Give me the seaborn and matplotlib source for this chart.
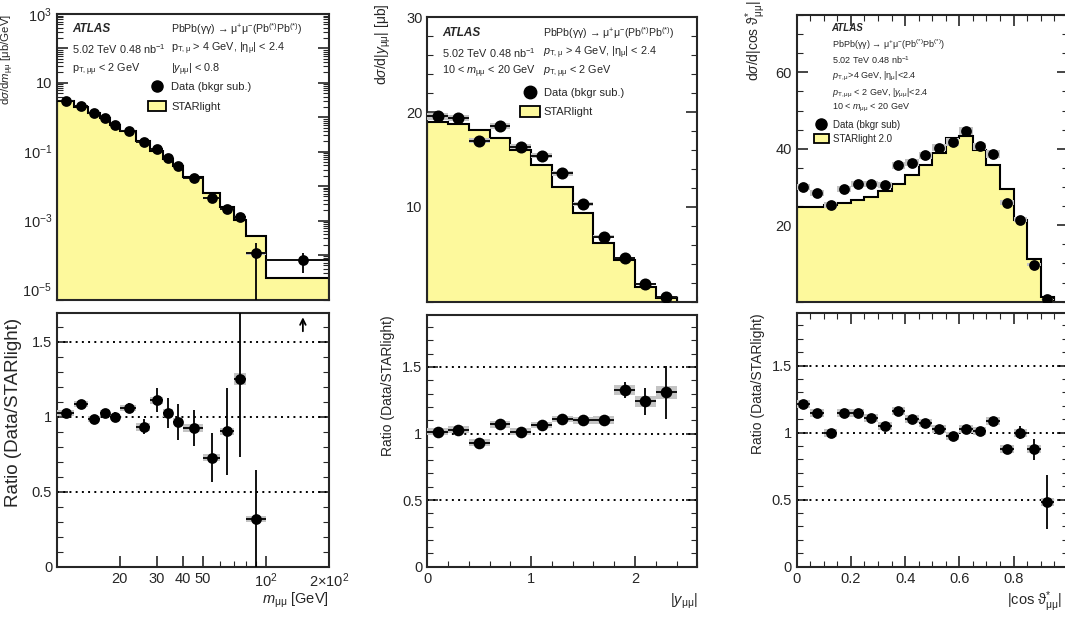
import numpy as np
import matplotlib
matplotlib.use("Agg")
import matplotlib.pyplot as plt
from matplotlib.lines import Line2D
from matplotlib.patches import Patch
from matplotlib.ticker import FixedLocator, MultipleLocator, LogLocator, FuncFormatter, NullFormatter
import seaborn as sns

# ---- m_mumu ----
mass_edges = [10, 12, 14, 16, 18, 20, 24, 28, 32, 36, 40, 50, 60, 70, 80, 100, 200]
mass_data = [3.05, 2.14, 1.31, 0.96, 0.61, 0.41, 0.193, 0.117, 0.064, 0.038, 0.017,
             0.0046, 0.0022, 0.0013, 1.1e-4, 7e-5]
mass_stat_lo = [0.03, 0.02, 0.015, 0.012, 0.009, 0.007, 0.004, 0.003, 0.002, 0.0015, 0.0008,
                0.0006, 0.0004, 0.0003, 1.1e-4, 4e-5]
mass_stat_hi = [0.03, 0.02, 0.015, 0.012, 0.009, 0.007, 0.004, 0.003, 0.002, 0.0015, 0.0008,
                0.0006, 0.0004, 0.0003, 1.1e-4, 4e-5]
mass_syst = [0.09, 0.06, 0.04, 0.03, 0.02, 0.012, 0.006, 0.004, 0.002, 0.0012, 0.0005,
             0.00015, 0.00007, 0.00004, 0.00001, 0.000005]
mass_starlight = [2.98, 1.97, 1.33, 0.94, 0.61, 0.39, 0.207, 0.105, 0.0625, 0.039, 0.0184,
                  0.0063, 0.0024, 0.00104, 3.5e-4, 2.2e-5]
mass_ratio = [1.024, 1.085, 0.987, 1.024, 0.998, 1.058, 0.933, 1.109, 1.024, 0.967, 0.924,
              0.728, 0.902, 1.254, 0.318, 3.2]
mass_ratio_stat = [0.02, 0.02, 0.02, 0.03, 0.03, 0.03, 0.05, 0.08, 0.10, 0.12, 0.12,
                   0.165, 0.29, 0.52, 0.33, 2.0]
mass_ratio_syst = [0.02, 0.02, 0.02, 0.02, 0.02, 0.02, 0.025, 0.025, 0.025, 0.025, 0.025,
                   0.025, 0.025, 0.04, 0.02, 0.1]

# ---- |y_mumu| ----
rap_edges = [0.0, 0.2, 0.4, 0.6, 0.8, 1.0, 1.2, 1.4, 1.6, 1.8, 2.0, 2.2, 2.4]
rap_data = [19.54, 19.37, 17.0, 18.56, 16.37, 15.42, 13.56, 10.32, 6.87, 4.58, 1.87, 0.46]
rap_stat = [0.3, 0.3, 0.3, 0.3, 0.3, 0.25, 0.25, 0.2, 0.2, 0.15, 0.1, 0.08]
rap_syst = [0.35, 0.35, 0.3, 0.3, 0.3, 0.25, 0.25, 0.2, 0.15, 0.1, 0.05, 0.02]
rap_starlight = [19.0, 18.77, 18.13, 17.25, 15.95, 14.37, 12.15, 9.33, 6.16, 4.4, 1.51, 0.42]
rap_ratio = [1.015, 1.028, 0.932, 1.07, 1.015, 1.063, 1.108, 1.10, 1.10, 1.327, 1.242, 1.31]
rap_ratio_stat = [0.02, 0.02, 0.02, 0.02, 0.02, 0.02, 0.025, 0.03, 0.035, 0.06, 0.1, 0.2]
rap_ratio_syst = [0.025, 0.025, 0.025, 0.025, 0.025, 0.025, 0.025, 0.025, 0.03, 0.04, 0.04, 0.05]

# ---- |cos theta*| ----
cos_edges = [0.0, 0.05, 0.1, 0.15, 0.2, 0.25, 0.3, 0.35, 0.4, 0.45, 0.5, 0.55, 0.6, 0.65,
             0.7, 0.75, 0.8, 0.85, 0.9, 0.95]
cos_data = [30.0, 28.5, 25.4, 29.5, 30.7, 30.7, 30.5, 35.7, 36.4, 38.3, 40.3, 41.8, 44.7,
            40.6, 38.7, 25.9, 21.5, 9.7, 0.6]
cos_stat = [0.8, 0.8, 0.8, 0.8, 0.8, 0.8, 0.8, 0.8, 0.8, 0.8, 0.8, 0.8, 0.8, 0.8, 0.8,
            0.7, 0.7, 0.6, 0.3]
cos_syst = [0.8, 0.8, 0.8, 0.8, 0.8, 0.8, 0.8, 0.9, 0.9, 0.9, 1.0, 1.0, 1.0, 1.0, 1.0,
            0.7, 0.6, 0.3, 0.05]
cos_starlight = [24.8, 24.9, 25.3, 25.9, 26.6, 27.5, 28.9, 30.8, 33.2, 35.7, 39.0, 42.8,
                 43.4, 39.7, 35.7, 29.4, 21.5, 11.2, 1.2]
cos_ratio = [1.21, 1.145, 1.0, 1.145, 1.145, 1.11, 1.05, 1.16, 1.105, 1.07, 1.03, 0.975,
             1.03, 1.01, 1.09, 0.88, 1.0, 0.875, 0.483]
cos_ratio_stat = [0.03, 0.03, 0.02, 0.03, 0.03, 0.03, 0.03, 0.03, 0.03, 0.03, 0.03, 0.03,
                  0.03, 0.03, 0.03, 0.03, 0.05, 0.08, 0.2]
cos_ratio_syst = [0.03] * 19

YELLOW = "#fdf99c"
GREY = "#c4c4c4"

sns.set_style("ticks")
plt.rcParams["font.family"] = ["Liberation Sans", "DejaVu Sans"]
plt.rcParams["mathtext.fontset"] = "custom"
plt.rcParams["mathtext.rm"] = "Liberation Sans"
plt.rcParams["mathtext.it"] = "Liberation Sans:italic"
plt.rcParams["mathtext.bf"] = "Liberation Sans:bold"
plt.rcParams["axes.linewidth"] = 1.5

fig = plt.figure(figsize=(10.65, 6.17), dpi=100)
W, H = 1065, 617


def add_ax(x0, x1, y0, y1):
    return fig.add_axes([x0 / W, 1 - y1 / H, (x1 - x0) / W, (y1 - y0) / H])


def style(ax, top=False):
    ax.tick_params(which="both", direction="in", right=True, top=top, labelsize=10.5)
    ax.tick_params(which="major", length=8, width=1.2)
    ax.tick_params(which="minor", length=4, width=0.8)


def draw_top(ax, edges, data, stat_lo, stat_hi, syst, hist, base, ms, xbars=True):
    edges = np.asarray(edges)
    cen = (edges[:-1] + edges[1:]) / 2
    wid = np.diff(edges)
    data = np.asarray(data)
    ax.stairs(hist, edges, baseline=base, fill=True, color=YELLOW, lw=0)
    ax.stairs(hist, edges, baseline=base, color="k", lw=1.5)
    ax.bar(cen, 2 * np.asarray(syst), width=wid, bottom=data - np.asarray(syst),
           color=GREY, lw=0, zorder=3)
    lo = np.minimum(np.asarray(stat_lo), data * 0.99999)
    ax.errorbar(cen, data, yerr=[lo, stat_hi], xerr=wid / 2 if xbars else None, fmt="none",
                ecolor="k", elinewidth=1.3, zorder=4)
    sns.scatterplot(x=cen, y=data, ax=ax, color="k", s=ms, edgecolor="k", linewidth=0,
                    zorder=5, legend=False)


def draw_ratio(ax, edges, ratio, stat, syst, ymax, ms):
    edges = np.asarray(edges)
    cen = (edges[:-1] + edges[1:]) / 2
    wid = np.diff(edges)
    ratio = np.asarray(ratio)
    stat = np.asarray(stat)
    syst = np.asarray(syst)
    ok = ratio <= ymax
    for v in [0.5, 1.0, 1.5]:
        ax.axhline(v, color="k", ls=(0, (1, 2.2)), lw=1.4, zorder=1)
    ax.bar(cen[ok], 2 * syst[ok], width=wid[ok], bottom=ratio[ok] - syst[ok],
           color=GREY, lw=0, zorder=3)
    ax.errorbar(cen[ok], ratio[ok], yerr=stat[ok], xerr=wid[ok] / 2, fmt="none", ecolor="k",
                elinewidth=1.3, zorder=4)
    sns.scatterplot(x=cen[ok], y=ratio[ok], ax=ax, color="k", s=ms, edgecolor="k", linewidth=0,
                    zorder=5, legend=False)
    # off-scale points get an arrow
    for c in cen[~ok]:
        ax.annotate("", xy=(c, ymax - 0.01), xytext=(c, ymax - 0.14),
                    arrowprops=dict(arrowstyle="->", lw=1.3, color="k"))
    ax.set_ylim(0, ymax)
    ax.yaxis.set_major_locator(FixedLocator([0, 0.5, 1, 1.5]))
    ax.yaxis.set_major_formatter(FuncFormatter(lambda v, p: "%g" % v))
    ax.yaxis.set_minor_locator(MultipleLocator(0.1))


def legend(ax, x, y, fs, labels, hl, ht, ls, msz):
    handles = [Line2D([], [], marker="o", ls="none", color="k", markersize=msz),
               Patch(facecolor=YELLOW, edgecolor="k", lw=1.3)]
    ax.legend(handles, labels, loc="upper left", bbox_to_anchor=(x, y), frameon=False,
              fontsize=fs, handlelength=hl, handleheight=1.1, handletextpad=ht,
              labelspacing=ls, borderpad=0, borderaxespad=0)


def txt(ax, x, y, s, fs, **kw):
    ax.text(x, y, s, transform=ax.transAxes, fontsize=fs, va="center", ha="left", **kw)


# ================= left: mass =================
axA = add_ax(57, 329, 14, 300)
axB = add_ax(57, 329, 313, 567)
draw_top(axA, mass_edges, mass_data, mass_stat_lo, mass_stat_hi, mass_syst, mass_starlight, 1e-8, 60)
axA.set_yscale("log")
axA.set_ylim(4.9e-6, 1e3)
axA.yaxis.set_major_locator(LogLocator(base=10, numticks=20))
axA.yaxis.set_minor_locator(LogLocator(base=10, subs=np.arange(2, 10), numticks=100))


def odd_pow(v, p):
    e = int(round(np.log10(v)))
    if e % 2 == 0:
        return ""
    if e == 1:
        return "10"
    return r"$10^{%d}$" % e


axA.yaxis.set_major_formatter(FuncFormatter(odd_pow))
axA.yaxis.set_minor_formatter(NullFormatter())
draw_ratio(axB, mass_edges, mass_ratio, mass_ratio_stat, mass_ratio_syst, 1.69, 60)
for ax in (axA, axB):
    ax.set_xscale("log")
    ax.set_xlim(10, 200)
    ax.xaxis.set_major_locator(FixedLocator([20, 30, 40, 50, 100, 200]))
    ax.xaxis.set_minor_locator(FixedLocator([60, 70, 80, 90]))
    ax.xaxis.set_minor_formatter(NullFormatter())
    style(ax)
axA.set_xticklabels([])
axB.set_xticklabels(["20", "30", "40", "50", r"$10^{2}$", r"$2{\times}10^{2}$"])

axA.set_ylabel(r"d$\sigma$/d$m_{\mathrm{\mu\mu}}$ [$\mathrm{\mu}$b/GeV]", fontsize=8.2, loc="top")
axA.yaxis.set_label_coords(-0.15, 1.0)
axB.set_ylabel("Ratio (Data/STARlight)", fontsize=13.5, loc="top")
axB.yaxis.set_label_coords(-0.13, 0.98)
axB.set_xlabel(r"$m_{\mathrm{\mu\mu}}$ [GeV]", fontsize=10.5, loc="right")
axB.xaxis.set_label_coords(1.0, -0.095)

txt(axA, 0.055, 0.947, "ATLAS", 8.5, fontweight="bold", fontstyle="italic")
txt(axA, 0.055, 0.877, r"5.02 TeV 0.48 nb$^{-1}$", 7.8)
txt(axA, 0.055, 0.806, r"p$_{\mathrm{T,\mu\mu}}$ < 2 GeV", 7.8)
txt(axA, 0.419, 0.947, r"PbPb($\mathrm{\gamma\gamma}$) → $\mathrm{\mu^{+}\mu^{-}}$(Pb$^{(*)}$Pb$^{(*)}$)", 7.6)
txt(axA, 0.419, 0.877, r"p$_{\mathrm{T,\mu}}$ > 4 GeV, |$\mathrm{\eta_{\mu}}$| < 2.4", 7.8)
txt(axA, 0.419, 0.806, r"|$y_{\mathrm{\mu\mu}}$| < 0.8", 7.8)
legend(axA, 0.335, 0.765, 8, ["Data (bkgr sub.)", "STARlight"], 1.6, 0.5, 0.75, 8)

# ================= middle: rapidity =================
axC = add_ax(427.3, 697.3, 17.3, 301.7)
axD = add_ax(427.3, 697.3, 315, 566.7)
draw_top(axC, rap_edges, rap_data, rap_stat, rap_stat, rap_syst, rap_starlight, 0, 75)
axC.set_ylim(0, 30)
axC.yaxis.set_major_locator(FixedLocator([10, 20, 30]))
axC.yaxis.set_minor_locator(MultipleLocator(2))
draw_ratio(axD, rap_edges, rap_ratio, rap_ratio_stat, rap_ratio_syst, 1.89, 70)
for ax in (axC, axD):
    ax.set_xlim(0, 2.6)
    ax.xaxis.set_major_locator(FixedLocator([0, 1, 2]))
    ax.xaxis.set_minor_locator(MultipleLocator(0.2))
    style(ax)
axC.set_xticklabels([])
axD.set_xticklabels(["0", "1", "2"])
axC.set_ylabel(r"d$\sigma$/d|$y_{\mathrm{\mu\mu}}$| [$\mathrm{\mu}$b]", fontsize=10, loc="top")
axC.yaxis.set_label_coords(-0.127, 1.05)
axD.set_ylabel("Ratio (Data/STARlight)", fontsize=10, loc="top")
axD.yaxis.set_label_coords(-0.12, 1.0)
axD.set_xlabel(r"|$y_{\mathrm{\mu\mu}}$|", fontsize=10.5, loc="right")
axD.xaxis.set_label_coords(1.0, -0.1)

txt(axC, 0.054, 0.945, "ATLAS", 8.5, fontweight="bold", fontstyle="italic")
txt(axC, 0.054, 0.874, r"5.02 TeV 0.48 nb$^{-1}$", 7.8)
txt(axC, 0.054, 0.808, r"10 < $m_{\mathrm{\mu\mu}}$ < 20 GeV", 7.8)
txt(axC, 0.428, 0.945, r"PbPb($\mathrm{\gamma\gamma}$) → $\mathrm{\mu^{+}\mu^{-}}$(Pb$^{(*)}$Pb$^{(*)}$)", 7.6)
txt(axC, 0.428, 0.874, r"$p_{\mathrm{T,\mu}}$ > 4 GeV, |$\mathrm{\eta_{\mu}}$| < 2.4", 7.8)
txt(axC, 0.428, 0.808, r"$p_{\mathrm{T,\mu\mu}}$ < 2 GeV", 7.8)
legend(axC, 0.343, 0.755, 8, ["Data (bkgr sub.)", "STARlight"], 1.8, 0.35, 0.7, 9)

# ================= right: cos theta* =================
axE = add_ax(796.7, 1067.7, 15, 301.7)
axF = add_ax(796.7, 1067.7, 313.3, 566.7)
draw_top(axE, cos_edges, cos_data, cos_stat, cos_stat, cos_syst, cos_starlight, 0, 60, xbars=False)
axE.set_ylim(0, 75)
axE.yaxis.set_major_locator(FixedLocator([20, 40, 60]))
axE.yaxis.set_minor_locator(MultipleLocator(5))
draw_ratio(axF, cos_edges, cos_ratio, cos_ratio_stat, cos_ratio_syst, 1.89, 60)
for ax in (axE, axF):
    ax.set_xlim(0, 1.0)
    ax.xaxis.set_major_locator(FixedLocator([0, 0.2, 0.4, 0.6, 0.8]))
    ax.xaxis.set_minor_locator(MultipleLocator(0.05))
    style(ax, top=True)
axE.set_xticklabels([])
axF.set_xticklabels(["0", "0.2", "0.4", "0.6", "0.8"])
axE.set_ylabel(r"d$\sigma$/d|cos $\mathrm{\vartheta}^{*}_{\mathrm{\mu\mu}}$|", fontsize=10, loc="top")
axE.yaxis.set_label_coords(-0.106, 1.05)
axF.set_ylabel("Ratio (Data/STARlight)", fontsize=10, loc="top")
axF.yaxis.set_label_coords(-0.117, 1.0)
axF.set_xlabel(r"|cos $\mathrm{\vartheta}^{*}_{\mathrm{\mu\mu}}$|", fontsize=10.5, loc="right")
axF.xaxis.set_label_coords(0.98, -0.09)

txt(axE, 0.129, 0.954, "ATLAS", 7, fontweight="bold", fontstyle="italic")
txt(axE, 0.129, 0.895, r"PbPb($\mathrm{\gamma\gamma}$) → $\mathrm{\mu^{+}\mu^{-}}$(Pb$^{(*)}$Pb$^{(*)}$)", 6.5)
txt(axE, 0.129, 0.843, r"5.02 TeV 0.48 nb$^{-1}$", 6.5)
txt(axE, 0.129, 0.784, r"$p_{\mathrm{T,\mu}}$>4 GeV, |$\mathrm{\eta_{\mu}}$|<2.4", 6.5)
txt(axE, 0.129, 0.728, r"$p_{\mathrm{T,\mu\mu}}$ < 2 GeV, |$y_{\mathrm{\mu\mu}}$|<2.4", 6.5)
txt(axE, 0.129, 0.676, r"10 < $m_{\mathrm{\mu\mu}}$ < 20 GeV", 6.5)
legend(axE, 0.064, 0.635, 7, ["Data (bkgr sub)", "STARlight 2.0"], 1.5, 0.4, 0.45, 8)

fig.savefig("out.png", dpi=100)
